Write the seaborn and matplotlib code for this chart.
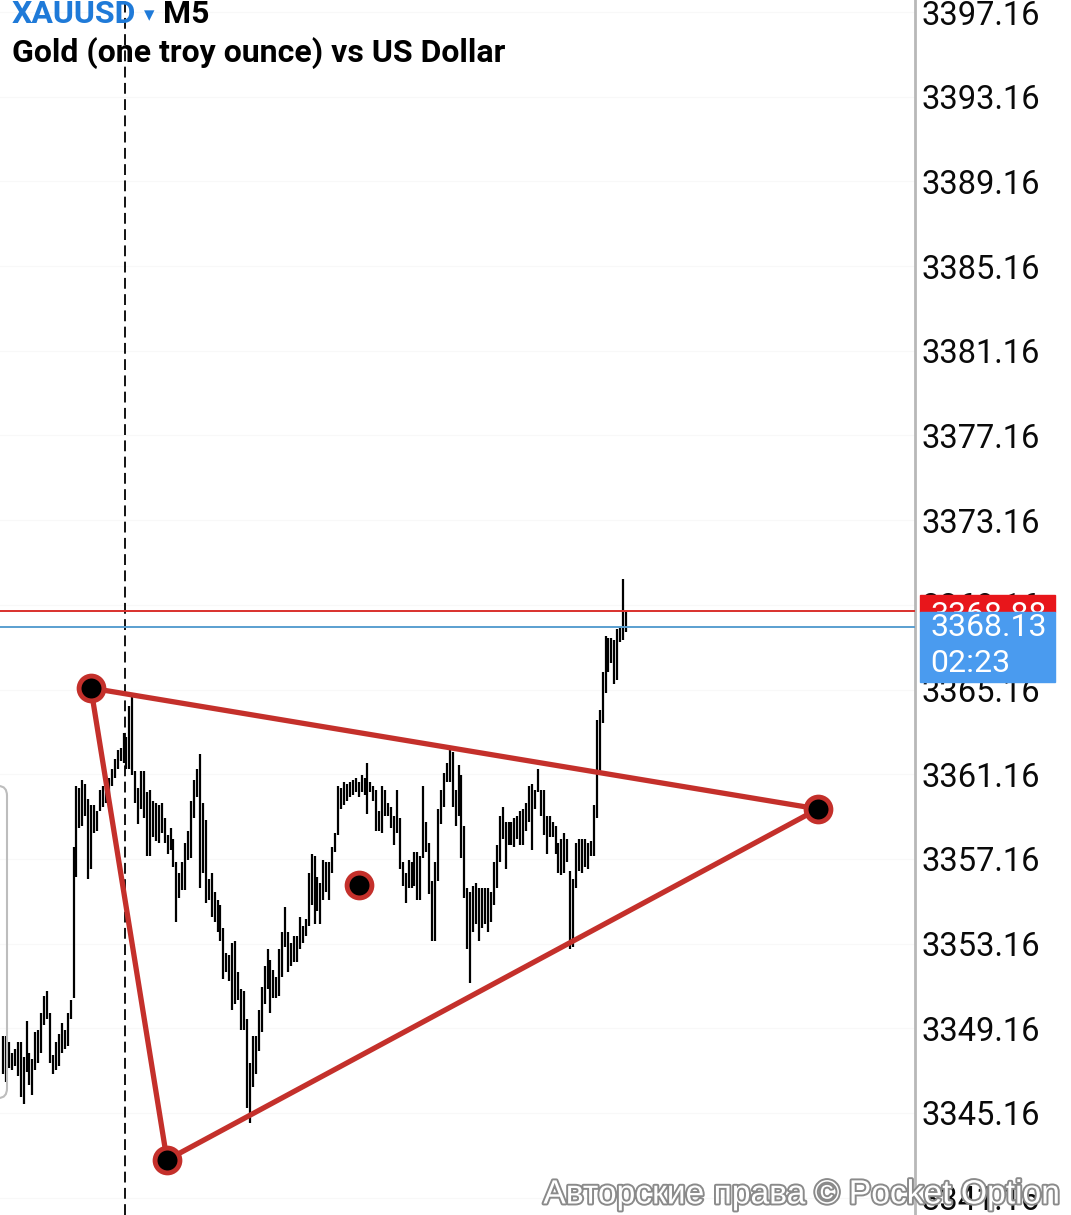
import numpy as np
import pandas as pd
import matplotlib
matplotlib.use("Agg")
import matplotlib.pyplot as plt
import matplotlib.patheffects as pe
from matplotlib.patches import FancyBboxPatch, Rectangle
import seaborn as sns

# high / low of each M5 bar (left to right)
highs = [3348.8, 3348.8, 3348.5, 3348.0, 3348.2, 3348.5, 3348.5, 3347.8, 3349.5, 3348.0,
         3347.7, 3349.0, 3349.1, 3349.9, 3350.7, 3350.9, 3349.9, 3347.9, 3348.5, 3348.9,
         3349.4, 3349.1, 3349.9, 3350.5, 3357.7, 3360.6, 3360.5, 3360.9, 3360.7, 3360.0,
         3359.7, 3359.7, 3359.4, 3360.4, 3360.6, 3360.5, 3361.0, 3361.4, 3361.9, 3362.3,
         3362.4, 3363.1, 3362.9, 3364.4, 3364.8, 3361.3, 3360.5, 3361.3, 3361.3, 3360.3,
         3360.4, 3359.9, 3359.8, 3359.7, 3359.8, 3359.1, 3358.3, 3358.6, 3358.1, 3357.0,
         3356.5, 3357.0, 3357.9, 3358.5, 3359.9, 3360.9, 3361.4, 3362.1, 3359.8, 3359.0,
         3356.2, 3356.5, 3355.6, 3355.2, 3355.0, 3353.9, 3352.7, 3352.6, 3353.2, 3353.3,
         3351.8, 3351.0, 3350.9, 3349.6, 3347.5, 3348.8, 3348.8, 3350.0, 3351.1, 3352.1,
         3352.9, 3352.4, 3351.9, 3351.6, 3352.9, 3353.7, 3354.9, 3353.7, 3353.2, 3353.5,
         3353.5, 3354.4, 3354.0, 3354.3, 3356.5, 3357.4, 3357.3, 3356.3, 3356.0, 3357.1,
         3357.0, 3357.0, 3357.7, 3358.4, 3360.6, 3360.5, 3360.8, 3360.7, 3360.8, 3360.9,
         3361.0, 3360.8, 3361.1, 3361.0, 3361.7, 3360.8, 3360.6, 3360.4, 3359.4, 3360.6,
         3360.4, 3359.8, 3359.6, 3359.2, 3360.4, 3359.1, 3357.0, 3356.5, 3357.1, 3357.0,
         3357.5, 3357.5, 3357.3, 3360.6, 3358.9, 3357.9, 3356.1, 3357.0, 3359.5, 3360.4,
         3361.2, 3361.7, 3362.3, 3362.2, 3360.4, 3361.6, 3361.1, 3358.7, 3355.8, 3355.6,
         3355.9, 3356.0, 3355.8, 3355.8, 3355.8, 3355.8, 3355.6, 3357.0, 3357.8, 3359.2,
         3359.6, 3358.9, 3358.9, 3358.9, 3359.1, 3359.2, 3359.4, 3359.5, 3359.8, 3360.6,
         3360.7, 3360.4, 3361.4, 3360.4, 3360.4, 3359.2, 3359.2, 3358.9, 3358.7, 3357.9,
         3358.1, 3358.4, 3358.1, 3356.6, 3356.2, 3357.9, 3358.1, 3358.1, 3358.1, 3357.9,
         3358.0, 3359.7, 3363.7, 3364.2, 3366.0, 3367.7, 3367.6, 3367.6, 3367.5, 3368.0,
         3368.1, 3370.4, 3368.8]
lows = [3347.0, 3346.6, 3347.3, 3347.2, 3347.4, 3346.9, 3345.9, 3345.6, 3347.1, 3346.5,
        3346.0, 3347.2, 3347.5, 3348.0, 3349.3, 3349.6, 3347.5, 3347.0, 3347.2, 3347.4,
        3348.0, 3348.2, 3348.3, 3349.6, 3350.6, 3356.3, 3358.6, 3358.7, 3359.2, 3356.2,
        3356.7, 3358.4, 3358.5, 3359.4, 3359.6, 3359.8, 3359.7, 3360.6, 3361.0, 3361.4,
        3361.8, 3361.7, 3361.4, 3361.4, 3361.1, 3359.8, 3358.8, 3359.5, 3359.1, 3357.3,
        3357.3, 3358.2, 3358.0, 3357.9, 3358.4, 3357.9, 3357.4, 3357.6, 3356.8, 3354.2,
        3355.3, 3355.7, 3355.7, 3357.1, 3357.2, 3359.1, 3360.1, 3355.8, 3356.5, 3355.1,
        3355.2, 3354.4, 3354.2, 3353.7, 3353.3, 3351.5, 3351.8, 3351.4, 3350.0, 3350.3,
        3350.5, 3349.1, 3349.1, 3345.4, 3344.7, 3346.4, 3347.0, 3348.1, 3349.0, 3350.3,
        3351.0, 3349.9, 3350.6, 3350.6, 3350.7, 3351.6, 3353.0, 3351.8, 3352.1, 3352.3,
        3352.3, 3352.9, 3353.2, 3353.5, 3354.0, 3355.0, 3354.1, 3354.7, 3354.1, 3355.2,
        3355.6, 3355.2, 3356.5, 3357.5, 3358.3, 3359.5, 3359.7, 3359.9, 3360.1, 3360.2,
        3360.3, 3360.1, 3360.3, 3360.2, 3359.3, 3360.3, 3359.9, 3358.5, 3358.5, 3358.4,
        3359.2, 3359.2, 3358.6, 3357.8, 3358.4, 3356.7, 3355.9, 3355.1, 3355.8, 3355.8,
        3355.9, 3355.2, 3355.2, 3357.2, 3357.5, 3355.5, 3353.3, 3353.3, 3356.1, 3358.8,
        3359.6, 3360.8, 3360.8, 3359.6, 3358.7, 3359.2, 3357.2, 3355.3, 3352.9, 3351.3,
        3353.7, 3354.1, 3353.3, 3353.9, 3354.1, 3353.7, 3354.2, 3355.0, 3355.8, 3357.0,
        3358.1, 3356.7, 3357.8, 3357.8, 3357.7, 3358.1, 3357.8, 3357.8, 3358.5, 3358.9,
        3357.6, 3359.5, 3360.3, 3359.2, 3358.3, 3357.4, 3358.2, 3358.2, 3357.4, 3356.5,
        3356.4, 3356.5, 3357.0, 3352.9, 3353.0, 3355.8, 3356.6, 3356.5, 3356.8, 3356.7,
        3357.3, 3357.3, 3359.1, 3361.2, 3363.6, 3365.0, 3366.0, 3366.4, 3365.4, 3365.6,
        3367.4, 3367.5, 3367.9]

bars = pd.DataFrame({"bar": np.arange(len(highs)), "high": highs, "low": lows})

# triangle drawing (bar index, price) and the extra dot
tri_bar = [29.9, 55.8, 277.3, 29.9]
tri_price = [3365.23, 3342.94, 3359.52, 3365.23]
dot_bar = [29.9, 55.8, 277.3, 121.1]
dot_price = [3365.23, 3342.94, 3359.52, 3355.93]
vline_bar = 41.5

ask_price = 3368.88
bid_price = 3368.13
countdown = "02:23"
yticks = np.arange(3341.16, 3397.2, 4.0)

W, H = 1071, 1215
sns.set_style("white")
plt.rcParams["font.family"] = ["Roboto", "DejaVu Sans"]

fig = plt.figure(figsize=(W / 100, H / 100), dpi=100)
ax = fig.add_axes([0, 0, 915 / W, 1])

for y in yticks:
    ax.axhline(y, color="#f8f8f8", lw=0.8, zorder=0)

ax.vlines(bars["bar"], bars["low"], bars["high"], color="black", lw=1.6, zorder=3)

ax.axvline(vline_bar, color="black", lw=1.3, ls=(0, (6, 3)), zorder=2)
ax.axhline(ask_price, color="#d9302c", lw=1.4, zorder=4)
ax.axhline(bid_price, color="#5a9fd0", lw=1.4, zorder=4)

sns.lineplot(x=tri_bar, y=tri_price, sort=False, estimator=None, color="#c4302b",
             lw=3.8, ax=ax, zorder=5, legend=False)
sns.scatterplot(x=dot_bar, y=dot_price, s=320, color="black", edgecolor="#c4302b",
                linewidth=3.5, ax=ax, zorder=6, legend=False)

ax.set_xlim(-1.02, 310.3)
ax.set_ylim(3340.34, 3397.73)
ax.set_xticks([])
ax.set_yticks(yticks)
ax.set_yticklabels([f"{v:.2f}" for v in yticks])
ax.yaxis.tick_right()
ax.tick_params(axis="y", length=0, pad=5, labelsize=23.5, labelcolor="#0a0a0a")
for s in ["top", "left", "bottom"]:
    ax.spines[s].set_visible(False)
ax.spines["right"].set_color("#b8b8b8")
ax.spines["right"].set_linewidth(2)
ax.set_xlabel("")
ax.set_ylabel("")

# price tags on the axis
def px(x, y):
    return x / W, 1 - y / H

fig.patches.append(Rectangle(px(920, 612), 135 / W, 17 / H, transform=fig.transFigure,
                             color="#e8161b", zorder=10))
fig.text(930 / W, 1 - 616 / H, f"{ask_price:.2f}", color="white", fontsize=23,
         va="center", zorder=11)
fig.patches.append(Rectangle(px(920, 682), 135 / W, 70 / H, transform=fig.transFigure,
                             color="#4a9bef", zorder=12))
fig.text(930 / W, 1 - 628 / H, f"{bid_price:.2f}", color="white", fontsize=23,
         va="center", zorder=13)
fig.text(930 / W, 1 - 663 / H, countdown, color="white", fontsize=23,
         va="center", zorder=13)

# left panel edge
fig.patches.append(FancyBboxPatch(px(-30, 1098), 37 / W, 312 / H,
                                  boxstyle="round,pad=0,rounding_size=0.008",
                                  transform=fig.transFigure, fill=False,
                                  edgecolor="#bdbdbd", lw=1.5, zorder=1))

# header
fig.text(12 / W, 1 - 23 / H, "XAUUSD", color="#1f7ad8", fontsize=23,
         fontweight="bold")
fig.text(144 / W, 1 - 21 / H, "▾", color="#1f7ad8", fontsize=15)
fig.text(163 / W, 1 - 23 / H, "M5", color="black", fontsize=23, fontweight="bold")
fig.text(12 / W, 1 - 62 / H, "Gold (one troy ounce) vs US Dollar", color="black",
         fontsize=23, fontweight="bold")

# watermark
fig.text(1060 / W, 1 - 1195 / H, "Авторские права © Pocket Option", color="white",
         fontsize=24.2, family=["Liberation Sans", "DejaVu Sans"], ha="right",
         va="center", zorder=20,
         path_effects=[pe.withStroke(linewidth=2.8, foreground="#8a8a8a")])

fig.savefig("out.png", dpi=100)
